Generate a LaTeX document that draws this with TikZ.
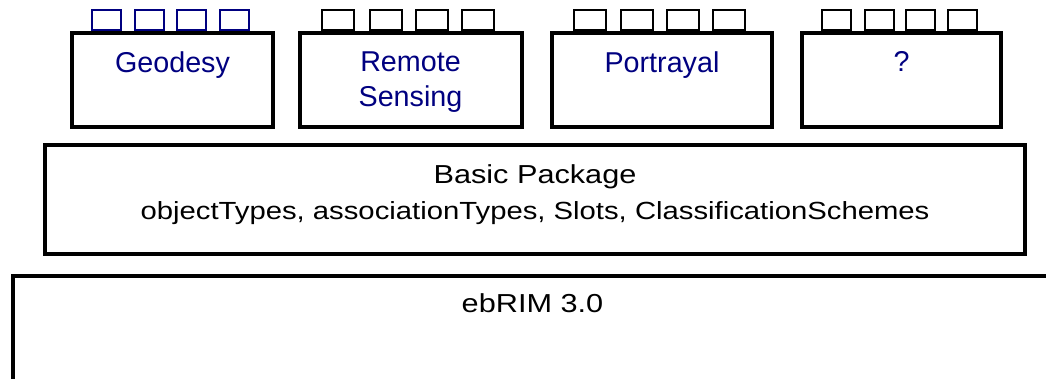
\documentclass[tikz,border=0pt]{standalone}
\usepackage{fontspec}
\setmainfont{Liberation Sans}
\newfontfamily\widefont[FakeStretch=1.18]{Liberation Sans}
\usetikzlibrary{positioning,calc,backgrounds}
\definecolor{labelblue}{RGB}{0,0,128}

\begin{document}
\begin{tikzpicture}[x = 1pt, y = -1pt,
  layer/.style = {draw, line width = 4pt, inner sep = 0pt},
  profile/.style = {layer, minimum height = 94pt},
  pkgtab/.style = {draw, line width = 2pt, minimum height = 20pt, inner sep = 0pt, anchor = south},
  profileText/.style = {text = labelblue, align = center, inner sep = 0pt, font = \fontsize{28.7}{35}\selectfont},
  layerText/.style = {inner sep = 0pt, font = \widefont\fontsize{26}{30}\selectfont}]
\useasboundingbox (0,0) rectangle (1046,379);
\clip (0,0) rectangle (1046,379);
% Profile packages
\node[profile, minimum width = 201pt] (geodesy) at (172.5,80.5) {};
\node[profile, minimum width = 222pt] (remote) at (410.5,80.5) {};
\node[profile, minimum width = 220pt] (portrayal) at (662,80.5) {};
\node[profile, minimum width = 199pt] (unknown) at (901.5,80.5) {};
\node[profileText, below = 20pt of geodesy.north] (geodesyText) {Geodesy};
\node[profileText, below = 20pt of remote.north] (remoteText) {Remote\\Sensing};
\node[profileText, below = 20pt of portrayal.north] (portrayalText) {Portrayal};
\node[profileText, below = 20pt of unknown.north] (unknownText) {?};
% Tabs on top of each package
\begin{scope}[on background layer]
\foreach \pkg/\w/\col in {geodesy/29/labelblue, remote/32/black, portrayal/32/black, unknown/29/black}
  \foreach \f [count = \i] in {0.18,0.39,0.595,0.8}
    \node[pkgtab, minimum width = \w pt, draw = \col] (\pkg tab\i) at ($(\pkg.north west)!\f!(\pkg.north east)$) {};
\end{scope}
% Basic package
\node[layer, minimum width = 980pt, minimum height = 108.5pt] (basic) at (535,199.5) {};
\node[layerText, below = 21pt of basic.north] (basicTitle) {Basic Package};
\node[layerText, font = \widefont\fontsize{24.8}{30}\selectfont, below = 58pt of basic.north] (basicList) {objectTypes, associationTypes, Slots, ClassificationSchemes};
% ebRIM base, runs off the page
\node[layer, minimum width = 1100pt, minimum height = 200pt, anchor = north west] (ebrim) at (11.3,273.7) {};
\node[layerText, anchor = north] (ebrimTitle) at (532.5,293) {ebRIM 3.0};
\end{tikzpicture}
\end{document}
